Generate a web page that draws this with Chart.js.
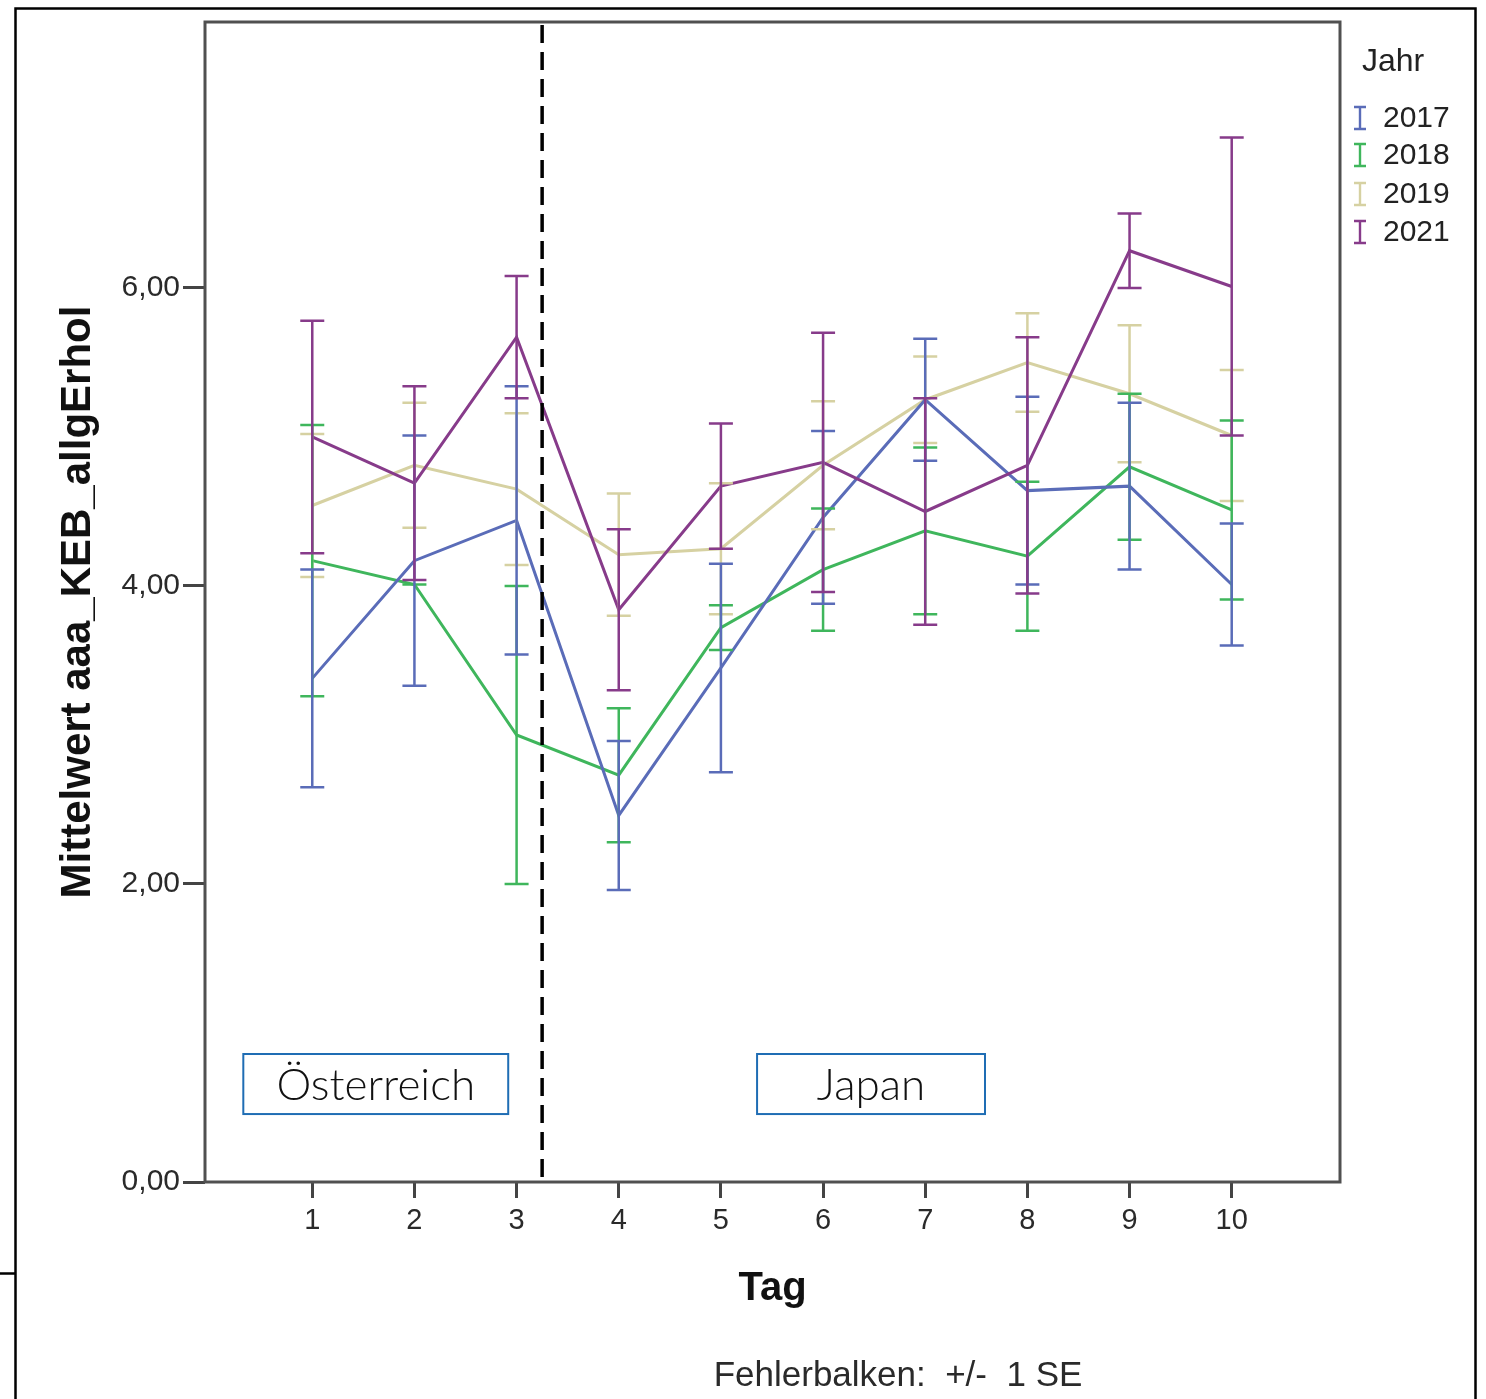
<!DOCTYPE html>
<html><head><meta charset="utf-8">
<script src="https://cdn.jsdelivr.net/npm/chart.js@4.4.1/dist/chart.umd.min.js"></script>
<style>html,body{margin:0;padding:0;background:#fff;} canvas{display:block}</style>
</head><body>
<canvas id="c" width="1486" height="1399" style="width:1486px;height:1399px"></canvas>
<script>
// ---- data ----
const days = [1, 2, 3, 4, 5, 6, 7, 8, 9, 10];
const xTickLabels = ['1', '2', '3', '4', '5', '6', '7', '8', '9', '10'];
const yTicks = [0, 2, 4, 6];
const yTickLabels = ['0,00', '2,00', '4,00', '6,00'];
const years = ['2017', '2018', '2019', '2021'];

const mean2017 = [3.38, 4.17, 4.44, 2.46, 3.45, 4.46, 5.25, 4.64, 4.67, 4.01];
const se2017   = [0.73, 0.84, 0.90, 0.50, 0.70, 0.58, 0.41, 0.63, 0.56, 0.41];
const mean2018 = [4.17, 4.01, 3.00, 2.73, 3.72, 4.11, 4.37, 4.20, 4.80, 4.51];
const se2018   = [0.91, 0.00, 1.00, 0.45, 0.15, 0.41, 0.56, 0.50, 0.49, 0.60];
const mean2019 = [4.54, 4.81, 4.65, 4.21, 4.25, 4.81, 5.25, 5.50, 5.29, 5.01];
const se2019   = [0.48, 0.42, 0.51, 0.41, 0.44, 0.43, 0.29, 0.33, 0.46, 0.44];
const mean2021 = [5.00, 4.69, 5.67, 3.84, 4.67, 4.83, 4.50, 4.81, 6.25, 6.01];
const se2021   = [0.78, 0.65, 0.41, 0.54, 0.42, 0.87, 0.76, 0.86, 0.25, 1.00];

const divider = 3.25; // Tag position of the dashed separator
const regionLabels = ['Österreich', 'Japan'];

// ---- styling ----
const colors = ['#5a6cb8', '#3fb65c', '#d6d1a2', '#873b8a'];
const means = [mean2017, mean2018, mean2019, mean2021];
const ses = [se2017, se2018, se2019, se2021];
const drawOrder = [1, 2, 3, 0];
const SANS = '"Liberation Sans", Arial, sans-serif';

const regionBoxes = [
  {x0: 0.325, x1: 2.918, y0: 0.456, y1: 0.859},
  {x0: 5.354, x1: 7.585, y0: 0.456, y1: 0.859}
];

const datasets = years.map((yr, i) => ({
  label: yr,
  data: days.map((d, j) => ({x: d, y: means[i][j]})),
  borderColor: colors[i],
  backgroundColor: colors[i],
  borderWidth: 3,
  pointRadius: 0,
  tension: 0,
  order: drawOrder[i],
  clip: false
}));

const decor = {
  id: 'decor',
  afterDatasetsDraw(chart) {
    const ctx = chart.ctx, xs = chart.scales.x, ys = chart.scales.y;
    const idx = [0, 1, 2, 3].sort((a, b) => drawOrder[b] - drawOrder[a]);
    ctx.save();
    for (const i of idx) {
      ctx.strokeStyle = colors[i];
      ctx.lineWidth = 2.5;
      for (let j = 0; j < days.length; j++) {
        const x = xs.getPixelForValue(days[j]);
        const yt = ys.getPixelForValue(means[i][j] + ses[i][j]);
        const yb = ys.getPixelForValue(means[i][j] - ses[i][j]);
        ctx.beginPath();
        ctx.moveTo(x, yt); ctx.lineTo(x, yb);
        ctx.moveTo(x - 12, yt); ctx.lineTo(x + 12, yt);
        ctx.moveTo(x - 12, yb); ctx.lineTo(x + 12, yb);
        ctx.stroke();
      }
    }
    ctx.restore();
  },
  afterDraw(chart) {
    const ctx = chart.ctx, xs = chart.scales.x, ys = chart.scales.y;
    const a = chart.chartArea;
    ctx.save();
    // plot frame
    ctx.strokeStyle = '#505050';
    ctx.lineWidth = 3;
    ctx.strokeRect(a.left, a.top, a.right - a.left, a.bottom - a.top);
    // dashed separator
    const dx = xs.getPixelForValue(divider);
    ctx.strokeStyle = '#000';
    ctx.lineWidth = 3.5;
    ctx.setLineDash([18, 9]);
    ctx.beginPath();
    ctx.moveTo(dx, a.top + 3); ctx.lineTo(dx, a.bottom - 4);
    ctx.stroke();
    ctx.setLineDash([]);
    // region boxes
    regionBoxes.forEach((b, k) => {
      const l = xs.getPixelForValue(b.x0), r = xs.getPixelForValue(b.x1);
      const t = ys.getPixelForValue(b.y1), bt = ys.getPixelForValue(b.y0);
      ctx.fillStyle = '#fff';
      ctx.fillRect(l, t, r - l, bt - t);
      ctx.strokeStyle = '#1f6db4';
      ctx.lineWidth = 2;
      ctx.strokeRect(l, t, r - l, bt - t);
      ctx.fillStyle = '#111';
      ctx.font = '300 44px Lato, "Open Sans", sans-serif';
      ctx.textAlign = 'center';
      ctx.textBaseline = 'middle';
      ctx.fillText(regionLabels[k], (l + r) / 2, (t + bt) / 2 + 2);
    });
    // legend
    ctx.fillStyle = '#222';
    ctx.font = '32px ' + SANS;
    ctx.textAlign = 'left';
    ctx.textBaseline = 'middle';
    ctx.fillText('Jahr', 1362, 62);
    const ly = [118, 155, 194, 232];
    ctx.font = '30px ' + SANS;
    years.forEach((yr, i) => {
      const cx = 1360, cy = ly[i];
      ctx.strokeStyle = colors[i];
      ctx.lineWidth = 2.4;
      ctx.beginPath();
      ctx.moveTo(cx, cy - 11); ctx.lineTo(cx, cy + 11);
      ctx.moveTo(cx - 6, cy - 11); ctx.lineTo(cx + 6, cy - 11);
      ctx.moveTo(cx - 6, cy + 11); ctx.lineTo(cx + 6, cy + 11);
      ctx.stroke();
      ctx.fillStyle = '#222';
      ctx.fillText(yr, 1383, cy + 1);
    });
    // footnote
    ctx.font = '35px ' + SANS;
    ctx.textAlign = 'center';
    ctx.fillStyle = '#2a2a2a';
    ctx.fillText('Fehlerbalken:  +/-  1 SE', 898, 1376);
    // outer frame
    ctx.strokeStyle = '#000';
    ctx.lineWidth = 2.5;
    ctx.beginPath();
    ctx.moveTo(15.5, 1399); ctx.lineTo(15.5, 8.5); ctx.lineTo(1475.5, 8.5); ctx.lineTo(1475.5, 1399);
    ctx.moveTo(0, 1273.5); ctx.lineTo(15.5, 1273.5);
    ctx.stroke();
    ctx.restore();
  }
};

new Chart(document.getElementById('c'), {
  type: 'line',
  data: {datasets},
  plugins: [decor],
  options: {
    responsive: false,
    animation: false,
    devicePixelRatio: 1,
    layout: {padding: {top: 22, right: 146, left: 0, bottom: 0}},
    plugins: {legend: {display: false}, tooltip: {enabled: false}, title: {display: false}},
    scales: {
      x: {
        type: 'linear', min: -0.05, max: 11.06,
        afterBuildTicks: s => { s.ticks = days.map(v => ({value: v})); },
        afterFit: s => { s.height = 217; },
        ticks: {
          callback: (v, i) => xTickLabels[i],
          font: {family: SANS, size: 29}, color: '#2a2a2a', padding: 6,
          maxRotation: 0, autoSkip: false
        },
        grid: {drawOnChartArea: false, drawTicks: true, tickLength: 16, tickColor: '#444', tickWidth: 3},
        border: {display: false},
        title: {display: true, text: 'Tag', font: {family: SANS, size: 40, weight: 'bold'}, color: '#111', padding: {top: 0, bottom: 86}}
      },
      y: {
        min: 0, max: 7.785,
        afterBuildTicks: s => { s.ticks = yTicks.map(v => ({value: v})); },
        afterFit: s => { s.width = 205; },
        ticks: {
          callback: (v, i) => yTickLabels[i],
          font: {family: SANS, size: 30}, color: '#2a2a2a', padding: 3
        },
        grid: {drawOnChartArea: false, drawTicks: true, tickLength: 22, tickColor: '#444', tickWidth: 3},
        border: {display: false},
        title: {display: true, text: 'Mittelwert aaa_KEB_allgErhol', font: {family: SANS, size: 42, weight: 'bold'}, color: '#111', padding: {top: 53, bottom: 0}}
      }
    }
  }
});
</script>
</body></html>
